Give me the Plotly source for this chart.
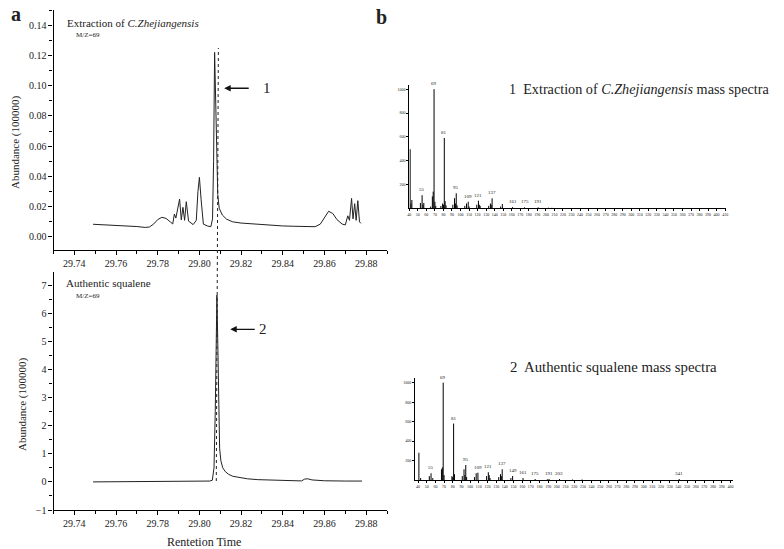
import plotly.graph_objects as go

W, H = 784, 549
SERIF = "Liberation Serif, Times New Roman, serif"
PAGE_PAD = 8  # the page body margin shifts the figure by this many pixels

# GC trace, extract of C. zhejiangensis, m/z 69 (abundance x 100000)
ext_rt = [29.749, 29.752, 29.755, 29.758, 29.762, 29.766, 29.770, 29.774, 29.776,
          29.778, 29.780, 29.782, 29.784, 29.786, 29.7872, 29.7880, 29.7887, 29.7905,
          29.7913, 29.7921, 29.7929, 29.7937, 29.7948, 29.7970, 29.7985, 29.7993,
          29.8000, 29.8008, 29.8019, 29.8040, 29.8055, 29.8063, 29.8068, 29.8073,
          29.8080, 29.8088, 29.8095, 29.8110, 29.8130, 29.8160, 29.8200, 29.8250,
          29.8300, 29.8350, 29.8400, 29.8450, 29.8500, 29.8555, 29.8580, 29.8600,
          29.8620, 29.8640, 29.8660, 29.8685, 29.8700, 29.8712, 29.8720, 29.8730,
          29.8737, 29.8745, 29.8752, 29.8760, 29.8768, 29.8775]
ext_abund = [0.0084, 0.0082, 0.0081, 0.0078, 0.0076, 0.0073, 0.0069, 0.0063, 0.0066,
             0.0085, 0.0115, 0.0130, 0.0123, 0.0100, 0.0086, 0.0152, 0.0125, 0.0250,
             0.0113, 0.0196, 0.0110, 0.0233, 0.0105, 0.0082, 0.0110, 0.0300,
             0.0394, 0.0250, 0.0085, 0.0072, 0.0068, 0.0120, 0.0500, 0.1220,
             0.0700, 0.0280, 0.0190, 0.0145, 0.0118, 0.0100, 0.0092, 0.0087,
             0.0082, 0.0076, 0.0073, 0.0071, 0.0069, 0.0068, 0.0085, 0.0130,
             0.0170, 0.0155, 0.0115, 0.0085, 0.0080, 0.0140, 0.0110, 0.0255,
             0.0120, 0.0220, 0.0110, 0.0240, 0.0100, 0.0090]

# GC trace, authentic squalene, m/z 69
sq_rt = [29.749, 29.760, 29.770, 29.780, 29.790, 29.800, 29.805, 29.8062, 29.8070,
         29.8076, 29.8081, 29.8084, 29.8088, 29.8092, 29.8097, 29.8103, 29.8112,
         29.8125, 29.8140, 29.8160, 29.8190, 29.8230, 29.8280, 29.8350, 29.8420,
         29.8490, 29.8505, 29.8520, 29.8540, 29.8600, 29.8700, 29.8780]
sq_abund = [0.00, 0.005, 0.01, 0.015, 0.02, 0.025, 0.03, 0.06, 0.5,
            2.5, 5.5, 6.65, 5.0, 2.6, 1.2, 0.75, 0.5,
            0.36, 0.27, 0.2, 0.15, 0.11, 0.08, 0.06, 0.04,
            0.035, 0.10, 0.11, 0.07, 0.04, 0.03, 0.03]

# mass spectrum of peak 1 (extract)
ext_mz = [41, 42, 43, 53, 55, 56, 57, 65, 67, 68, 69, 70, 71, 77, 79, 80, 81, 82, 83,
          91, 93, 94, 95, 96, 105, 107, 109, 110, 119, 121, 122, 123, 133, 135, 136,
          137, 147, 149, 161, 175, 191, 203, 207]
ext_int = [496, 40, 70, 45, 110, 30, 45, 15, 100, 140, 1000, 55, 20, 20, 40, 30, 590,
           60, 25, 30, 85, 40, 126, 25, 20, 40, 55, 15, 30, 64, 30, 20, 20, 40, 30,
           84, 15, 36, 10, 8, 8, 5, 4]
ext_labels = [55, 69, 81, 95, 109, 121, 137, 161, 175, 191]

# mass spectrum of authentic squalene
sq_mz = [41, 43, 53, 55, 57, 67, 68, 69, 70, 79, 80, 81, 82, 91, 93, 94, 95, 96, 105,
         107, 109, 119, 121, 122, 123, 133, 135, 136, 137, 147, 149, 161, 175, 189,
         191, 203, 218, 229, 341]
sq_int = [280, 20, 40, 69, 20, 110, 130, 1000, 50, 40, 30, 580, 60, 40, 110, 50, 154,
          30, 30, 70, 75, 40, 80, 50, 20, 30, 60, 40, 110, 20, 41, 20, 10, 8,
          10, 10, 5, 5, 10]
sq_labels = [55, 69, 81, 95, 109, 121, 137, 149, 161, 175, 191, 203, 341]

rt_ticks = [29.74, 29.76, 29.78, 29.80, 29.82, 29.84, 29.86, 29.88]
ms_yticks = [200, 400, 600, 800, 1000]


def px(x):
    return (x - PAGE_PAD) / W


def py(y):
    return 1 - (y - PAGE_PAD) / H


def sticks(mz, inten):
    # each spectrum line is a vertical stroke from the baseline up to its intensity
    xs, ys = [], []
    for m, v in zip(mz, inten):
        xs += [m, m, None]
        ys += [0, v, None]
    return xs, ys


fig = go.Figure()
fig.add_trace(go.Scatter(x=ext_rt, y=ext_abund, mode="lines",
                         line=dict(color="#222", width=1), xaxis="x", yaxis="y"))
fig.add_trace(go.Scatter(x=sq_rt, y=sq_abund, mode="lines",
                         line=dict(color="#222", width=1), xaxis="x2", yaxis="y2"))
sx, sy = sticks(ext_mz, ext_int)
fig.add_trace(go.Scatter(x=sx, y=sy, mode="lines", line=dict(color="black", width=1),
                         xaxis="x3", yaxis="y3"))
sx, sy = sticks(sq_mz, sq_int)
fig.add_trace(go.Scatter(x=sx, y=sy, mode="lines", line=dict(color="black", width=1),
                         xaxis="x4", yaxis="y4"))

tick_font = dict(family=SERIF, size=10, color="#222")
tiny_font = dict(family=SERIF, size=4, color="#222")


def chrom_x(anchor):
    return dict(domain=[px(53.5), px(387)], range=[29.73, 29.89], anchor=anchor,
                tickvals=rt_ticks, tickformat=".2f", ticks="outside", ticklen=4,
                tickcolor="black", showline=True, linecolor="black", linewidth=1.2,
                showgrid=False, zeroline=False, tickfont=tick_font, automargin=False,
                minor=dict(dtick=0.01, tick0=29.73, ticks="outside", ticklen=3,
                           tickcolor="black", showgrid=False))


def ms_axes(xdom, xrange, xticks, ydom, yrange, anchor_x, anchor_y):
    xa = dict(domain=xdom, range=xrange, anchor=anchor_y, tickvals=xticks,
              ticks="outside", ticklen=2, tickwidth=0.6, tickcolor="black",
              showline=True, linecolor="black", linewidth=0.8, showgrid=False,
              zeroline=False, tickfont=tiny_font, automargin=False)
    ya = dict(domain=ydom, range=yrange, anchor=anchor_x, tickvals=ms_yticks,
              ticks="outside", ticklen=2, tickwidth=0.6, tickcolor="black",
              showline=True, linecolor="black", linewidth=0.8, showgrid=False,
              zeroline=False, tickfont=tiny_font, automargin=False)
    return xa, ya


x3, y3 = ms_axes([px(409.3), px(726)], [40, 411], list(range(40, 411, 10)),
                 [py(208.3), py(85)], [0, 1035], "x3", "y3")
x4, y4 = ms_axes([px(415), px(733)], [36.5, 403], list(range(40, 401, 10)),
                 [py(480), py(378)], [0, 1048], "x4", "y4")

fig.update_layout(
    template="none",
    width=W, height=H, margin=dict(l=0, r=0, t=0, b=0, pad=0),
    paper_bgcolor="white", plot_bgcolor="white", showlegend=False,
    xaxis=chrom_x("y"),
    yaxis=dict(domain=[py(250), py(10)], range=[-0.0086, 0.15], anchor="x",
               dtick=0.02, tick0=0, tickformat=".2f", ticks="outside", ticklen=4,
               tickcolor="black", showline=True, linecolor="black", linewidth=1.2,
               showgrid=False, zeroline=False, tickfont=tick_font, automargin=False,
               minor=dict(dtick=0.01, tick0=0, ticks="outside", ticklen=3,
                          tickcolor="black", showgrid=False)),
    xaxis2=chrom_x("y2"),
    yaxis2=dict(domain=[py(510), py(272)], range=[-1, 7.47], anchor="x2",
                dtick=1, tick0=0, ticks="outside", ticklen=4,
                tickcolor="black", showline=True, linecolor="black", linewidth=1.2,
                showgrid=False, zeroline=False, tickfont=tick_font, automargin=False,
                minor=dict(dtick=0.5, tick0=0, ticks="outside", ticklen=3,
                           tickcolor="black", showgrid=False)),
    xaxis3=x3, yaxis3=y3, xaxis4=x4, yaxis4=y4,
)

# dotted marker line through both retention-time peaks
fig.add_shape(type="line", xref="x", yref="paper", x0=29.8081, x1=29.8091,
              y0=py(481), y1=py(48), line=dict(color="#222", width=1, dash="dot"))

ann = []


def text(x, y, s, size, xanchor="center", xref="paper", yref="paper", **kw):
    ann.append(dict(x=x, y=y, xref=xref, yref=yref, text=s, showarrow=False,
                    xanchor=xanchor, yanchor="middle",
                    font=dict(family=SERIF, size=size, color="#222"), **kw))


# panel letters sit as close to the top-left corner as the page allows
text(px(9), py(14), "<b>a</b>", 20, "left")
text(px(381), py(17), "<b>b</b>", 20)
text(px(65), py(23), "Extraction of <i>C.Zhejiangensis</i>", 11, "left")
text(px(74), py(35), "M/Z=69", 7, "left")
text(px(64), py(283), "Authentic squalene", 11, "left")
text(px(74), py(296), "M/Z=69", 7, "left")
text(px(15), py(142), "Abundance (100000)", 11, textangle=-90)
text(px(22), py(404), "Abundance (100000)", 11, textangle=-90)
text(px(204), py(542), "Rentetion Time", 12)
text(px(507), py(89), "1  Extraction of <i>C.Zhejiangensis</i> mass spectra", 14.2, "left")
text(px(508), py(367), "2  Authentic squalene mass spectra", 14.8, "left")

# arrows pointing at the peaks
ann.append(dict(x=29.8119, y=0.0983, xref="x", yref="y", text="", showarrow=True,
                ax=26, ay=0, arrowhead=2, arrowsize=1, arrowwidth=1.3, arrowcolor="#111"))
text(29.8326, 0.0983, "1", 15, xref="x", yref="y")
ann.append(dict(x=29.8148, y=5.43, xref="x2", yref="y2", text="", showarrow=True,
                ax=26, ay=0, arrowhead=2, arrowsize=1, arrowwidth=1.3, arrowcolor="#111"))
text(29.8303, 5.43, "2", 15, xref="x2", yref="y2")

# peak labels on the spectra
for mz in ext_labels:
    v = ext_int[ext_mz.index(mz)]
    ann.append(dict(x=mz, y=v, xref="x3", yref="y3", text=str(mz), showarrow=False,
                    yanchor="bottom", yshift=1, font=dict(family=SERIF, size=5, color="#222")))
for mz in sq_labels:
    v = sq_int[sq_mz.index(mz)]
    ann.append(dict(x=mz, y=v, xref="x4", yref="y4", text=str(mz), showarrow=False,
                    yanchor="bottom", yshift=1, font=dict(family=SERIF, size=5, color="#222")))

fig.update_layout(annotations=ann)
fig.write_html("out.html")
